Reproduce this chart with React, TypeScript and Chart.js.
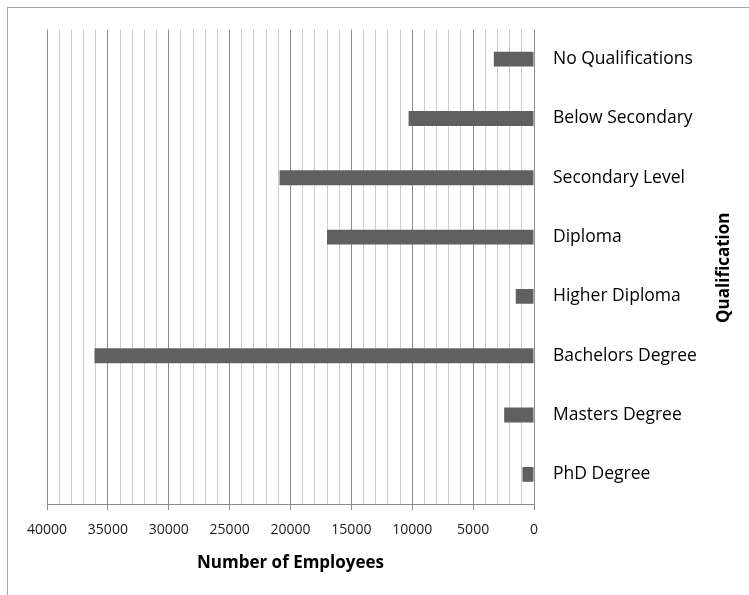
import React, { useEffect, useRef } from "react";
import { Chart, registerables } from "chart.js";

Chart.register(...registerables);

// Employees by highest qualification
const qualifications = [
  "No Qualifications",
  "Below Secondary",
  "Secondary Level",
  "Diploma",
  "Higher Diploma",
  "Bachelors Degree",
  "Masters Degree",
  "PhD Degree",
];
const employees = [3300, 10300, 20900, 17000, 1500, 36100, 2450, 950];

const xMin = 0;
const xMax = 40000;
const minorStep = 1000;
const majorStep = 5000;

const FONT = "'Open Sans', 'Noto Sans', sans-serif";

// Rotated category-axis title, reading bottom to top on the right edge
const sideTitle = {
  id: "sideTitle",
  afterDraw(chart: any) {
    const { ctx, chartArea } = chart;
    ctx.save();
    ctx.translate(chart.width - 25, (chartArea.top + chartArea.bottom) / 2 + 1);
    ctx.rotate(-Math.PI / 2);
    ctx.font = `bold 17px ${FONT}`;
    ctx.fillStyle = "#000";
    ctx.textAlign = "center";
    ctx.textBaseline = "middle";
    ctx.fillText("Qualification", 0, 0);
    ctx.restore();
  },
};

export default function App() {
  const canvasRef = useRef<HTMLCanvasElement | null>(null);

  useEffect(() => {
    if (!canvasRef.current) return;
    Chart.defaults.font.family = FONT;
    const chart = new Chart(canvasRef.current, {
      type: "bar",
      data: {
        labels: qualifications,
        datasets: [
          {
            data: employees,
            backgroundColor: "#606060",
            borderWidth: 0,
            categoryPercentage: 1,
            barPercentage: 0.25,
          },
        ],
      },
      options: {
        indexAxis: "y",
        responsive: false,
        animation: false,
        layout: { padding: { top: 26, left: 47, right: 0, bottom: 0 } },
        plugins: {
          legend: { display: false },
          tooltip: { enabled: false },
        },
        scales: {
          x: {
            type: "linear",
            position: "bottom",
            reverse: true,
            min: xMin,
            max: xMax,
            afterFit: (scale: any) => {
              scale.height = 91;
            },
            ticks: {
              stepSize: minorStep,
              autoSkip: false,
              maxRotation: 0,
              padding: 12,
              color: "#1a1a1a",
              font: { size: 14, family: FONT },
              callback: (v: any) => (Number(v) % majorStep === 0 ? String(v) : ""),
            },
            grid: {
              color: (c: any) =>
                c.tick && c.tick.value % majorStep === 0 ? "#8c8c8c" : "#cdcdcd",
              tickColor: (c: any) =>
                c.tick && c.tick.value % majorStep === 0 ? "#8c8c8c" : "rgba(0,0,0,0)",
              tickLength: 6,
              lineWidth: 1,
            },
            border: { display: true, color: "#8c8c8c" },
            title: {
              display: true,
              text: "Number of Employees",
              color: "#000",
              font: { size: 17, weight: "bold", family: FONT },
              padding: { top: 0, bottom: 22 },
            },
          },
          y: {
            type: "category",
            position: "right",
            afterFit: (scale: any) => {
              scale.width = 215;
            },
            grid: { display: false, drawTicks: false },
            border: { display: false },
            ticks: {
              padding: 19,
              color: "#000",
              font: { size: 17.5, family: FONT },
            },
          },
        },
      },
      plugins: [sideTitle],
    });
    return () => chart.destroy();
  }, []);

  return (
    <div
      style={{
        position: "fixed",
        left: 0,
        top: 0,
        width: 749,
        height: 595,
        overflow: "hidden",
        background: "#fff",
      }}
    >
      <div
        style={{
          position: "absolute",
          left: 7,
          top: 7,
          width: 800,
          height: 700,
          border: "1px solid #a6a6a6",
        }}
      />
      <canvas
        ref={canvasRef}
        width={749}
        height={595}
        style={{ position: "absolute", left: 0, top: 0, width: 749, height: 595 }}
      />
    </div>
  );
}
